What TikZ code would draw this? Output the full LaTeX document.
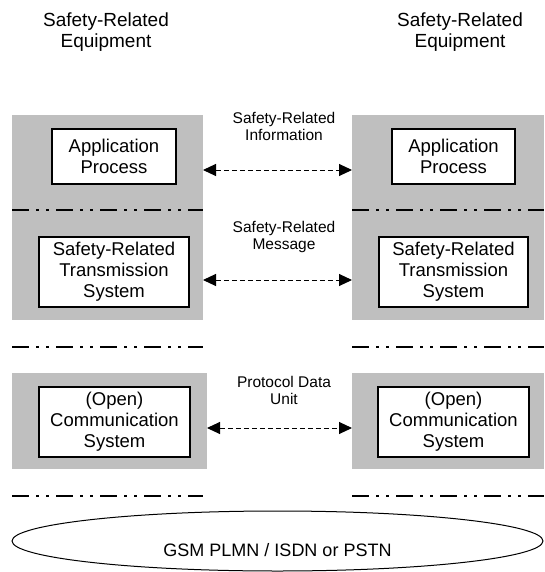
\documentclass[tikz,border=0pt]{standalone}
\usepackage{fontspec}
\setmainfont{Liberation Sans}
\usetikzlibrary{arrows.meta,shapes.geometric}

\begin{document}
\begin{tikzpicture}[x=1pt,y=-1pt]
        \useasboundingbox (0,0) rectangle (544,572);

        \begin{scope}[every node/.style={align=center,font=\fontsize{19}{21}\selectfont}]
            \node (eqL) at (106,32) {Safety-Related\\Equipment};
            \node (eqR) at (460,32) {Safety-Related\\Equipment};
        \end{scope}

        \begin{scope}[every node/.style={fill=black!25,inner sep=0pt}]
            \node[minimum width=191pt,minimum height=205pt] (stackL) at (107.5,217.5) {};
            \node[minimum width=192pt,minimum height=205pt] (stackR) at (448,217.5) {};
            \node[minimum width=195pt,minimum height=96pt] (commL) at (109.5,421) {};
            \node[minimum width=192pt,minimum height=96pt] (commR) at (448,421) {};
        \end{scope}

        \begin{scope}[line width=2.5pt,dash pattern=on 17pt off 7pt on 3pt off 7pt on 3pt off 7pt]
            \foreach \y in {210,347,496} {
                \draw (12,\y) -- (203,\y);
                \draw (352,\y) -- (544,\y);
            }
        \end{scope}

        \begin{scope}[every node/.style={draw,fill=white,line width=1.5pt,inner sep=0pt,
                    align=center,font=\fontsize{18.5}{21}\selectfont}]
            \node[minimum width=124pt,minimum height=55pt] (appL) at (114,156.5) {Application\\Process};
            \node[minimum width=123pt,minimum height=55pt] (appR) at (453.5,156.5) {Application\\Process};
            \node[minimum width=150pt,minimum height=70pt] (srtsL) at (114,272) {Safety-Related\\Transmission\\System};
            \node[minimum width=149pt,minimum height=70pt] (srtsR) at (453.5,272) {Safety-Related\\Transmission\\System};
            \node[minimum width=151pt,minimum height=70pt] (openL) at (114.5,422) {(Open)\\Communication\\System};
            \node[minimum width=151pt,minimum height=70pt] (openR) at (453.5,422) {(Open)\\Communication\\System};
        \end{scope}

        \coordinate (infoL) at (203,170);
        \coordinate (infoR) at (352,170);
        \coordinate (msgL) at (203,280);
        \coordinate (msgR) at (352,280);
        \coordinate (pduL) at (207,428);
        \coordinate (pduR) at (352,428);

        \begin{scope}[>={Triangle[length=13pt,width=12pt]},
                    every edge/.style={draw,<->,line width=1pt,dash pattern=on 5pt off 3pt}]
            \path (infoL) edge (infoR);
            \path (msgL) edge (msgR);
            \path (pduL) edge (pduR);
        \end{scope}

        \begin{scope}[every node/.style={align=center,font=\fontsize{15.5}{17}\selectfont}]
            \node (infoLbl) at (284,126.5) {Safety-Related\\Information};
            \node (msgLbl) at (284,236.5) {Safety-Related\\Message};
            \node (pduLbl) at (284,390) {Protocol Data\\Unit};
        \end{scope}

        \node[ellipse,draw,line width=1pt,minimum width=531pt,minimum height=60pt,inner sep=0pt,
              text height=31pt,text depth=0pt,font=\fontsize{18}{21}\selectfont]
              (net) at (277.5,541) {GSM PLMN / ISDN or PSTN};
    \end{tikzpicture}
\end{document}
